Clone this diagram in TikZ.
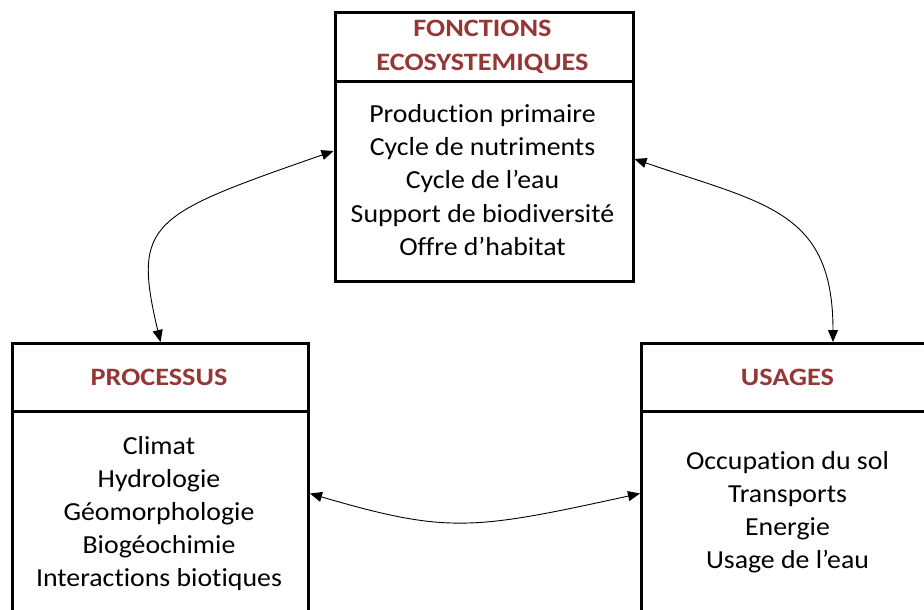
\documentclass[tikz,border=0pt]{standalone}
\usepackage{fontspec}
\setmainfont{Carlito}[Ligatures=NoCommon]
\newfontfamily\bodyfont{Carlito}[Ligatures=NoCommon,FakeStretch=1.07]
\newfontfamily\hdfont{Carlito}[Ligatures=NoCommon,FakeStretch=1.13]
\usetikzlibrary{arrows.meta}
\definecolor{hdr}{RGB}{149,55,53}
\begin{document}
\begin{tikzpicture}[x=1pt,y=-1pt,
  box/.style={draw,line width=3pt,anchor=north west,inner sep=0pt},
  hd/.style={font=\hdfont\fontsize{25}{30}\selectfont\bfseries,text=hdr,anchor=base,inner sep=0pt},
  bd/.style={font=\bodyfont\fontsize{26}{33}\selectfont,anchor=base,inner sep=0pt},
  sep/.style={line width=3pt},
  arr/.style={line width=0.9pt,{Triangle[length=12pt,width=10pt]}-{Triangle[length=12pt,width=10pt]}}]
\useasboundingbox (0,0) rectangle (924,610);
\node[box,minimum width=298pt,minimum height=269pt] (fbox) at (333.5,11) {};
\node[box,minimum width=296pt,minimum height=300pt] (pbox) at (11,342) {};
\node[box,minimum width=296pt,minimum height=300pt] (ubox) at (640,342) {};
\draw[sep] (fbox.west |- 0,82) -- (fbox.east |- 0,82);
\draw[sep] (pbox.west |- 0,411) -- (pbox.east |- 0,411);
\draw[sep] (ubox.west |- 0,411) -- (ubox.east |- 0,411);
% headers
\node[hd] (fh1) at (482.5,36.7) {FONCTIONS};
\node[hd] (fh2) at (482.5,70.7) {ECOSYSTEMIQUES};
\node[hd] (ph) at (159,385) {PROCESSUS};
\node[hd] (uh) at (787.5,385) {USAGES};
% bodies
\foreach \t [count=\i] in {Production primaire,Cycle de nutriments,Cycle de l’eau,Support de biodiversité,Offre d’habitat}
  \node[bd] (f\i) at (482.5,{122.7+33.1*(\i-1)}) {\t};
\foreach \t [count=\i] in {Climat,Hydrologie,Géomorphologie,Biogéochimie,Interactions biotiques}
  \node[bd] (p\i) at (159,{454+33*(\i-1)}) {\t};
\foreach \t [count=\i] in {Occupation du sol,Transports,Energie,Usage de l’eau}
  \node[bd] (u\i) at (787.5,{469+33*(\i-1)}) {\t};
% connectors
\draw[arr] (fbox.west |- 0,151) .. controls (150,215) and (132,222) .. (pbox.north);
\draw[arr] (fbox.east |- 0,159) .. controls (765,204) and (833,210) .. (833,0 |- ubox.north);
\draw[arr] (pbox.east) .. controls (448,534) and (473,530) .. (ubox.west);
\end{tikzpicture}
\end{document}
